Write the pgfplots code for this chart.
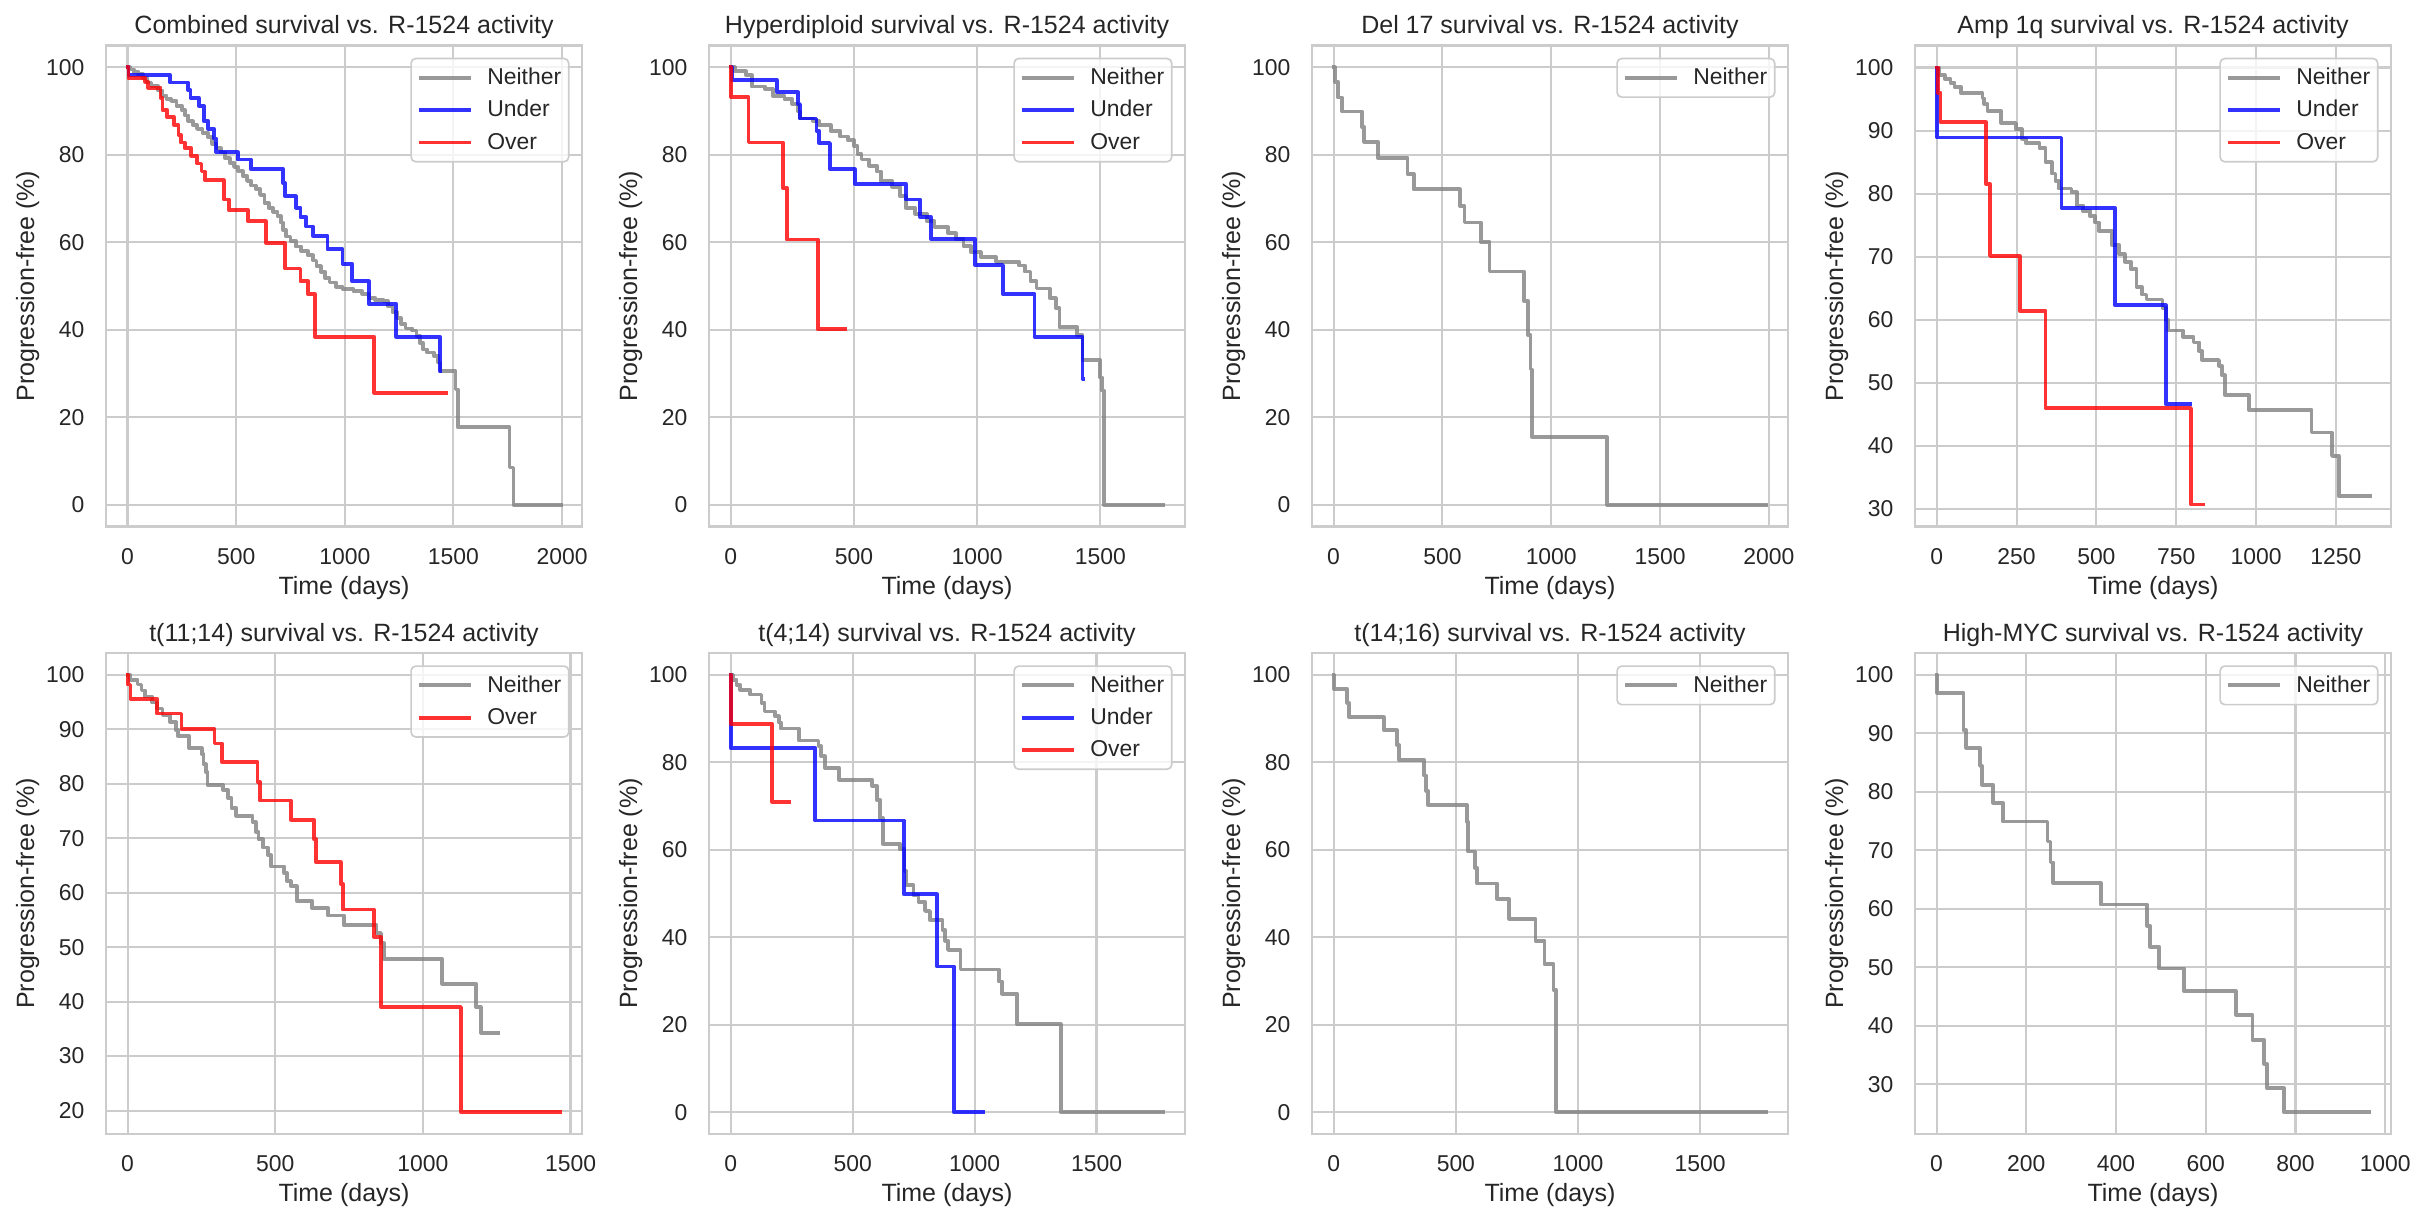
\documentclass[border=0pt]{standalone}
\usepackage{fontspec}
\setmainfont{Liberation Sans}
\usepackage{pgfplots}
\pgfplotsset{compat=1.18}

\definecolor{txt}{HTML}{262626}
\definecolor{gridc}{HTML}{CCCCCC}
\definecolor{neithc}{HTML}{808080}

\pgfplotsset{
  km/.style={
    scale only axis, anchor=south west,
    width=228.5pt, height=230.9pt,
    axis line style={draw=gridc, line width=1.25pt},
    grid=major,
    major grid style={draw=gridc, line width=1pt},
    major tick length=0pt,
    tick label style={font=\fontsize{11}{13}\selectfont, text=txt},
    xticklabel style={yshift=-6.8pt},
    yticklabel style={xshift=-6.9pt},
    /pgf/number format/assume math mode=true,
    /pgf/number format/1000 sep={},
    scaled ticks=false,
    xlabel={Time (days)},
    ylabel={Progression-free (\%)},
    every axis x label/.style={at={(axis description cs:0.5,0)}, anchor=base, yshift=-32.6pt, font=\fontsize{12}{14}\selectfont, text=txt},
    every axis y label/.style={at={(axis description cs:0,0.5)}, rotate=90, anchor=base, yshift=34.5pt, font=\fontsize{12}{14}\selectfont, text=txt},
    every axis title/.style={at={(axis description cs:0.5,1)}, anchor=base, yshift=5.5pt, font=\fontsize{12}{14}\selectfont, text=txt},
    legend cell align=left,
    legend image code/.code={\draw[##1] (0pt,0pt) -- (23.3pt,0pt);},
    legend style={at={(1,1)}, anchor=north east, xshift=-6pt, yshift=-5.9pt,
      draw=gridc, line width=0.8pt, rounded corners=2.2pt, fill=white, fill opacity=0.8, text opacity=1,
      font=\fontsize{11}{13}\selectfont, text=txt,
      inner xsep=3.6pt, inner ysep=1.5pt, column sep=7.9pt, row sep=0pt,
      nodes={inner sep=0pt, text height=11pt, text depth=4.5pt}},
  },
  km line/.style={const plot, mark=none, line width=1.8pt, opacity=0.8, line join=round, line cap=rect},
  neither/.style={km line, draw=neithc},
  under/.style={km line, draw=blue},
  over/.style={km line, draw=red},
}

\begin{document}
\begin{tikzpicture}
\useasboundingbox (0,0) rectangle (1160.64pt,584.64pt);

% Combined
\begin{axis}[km, at={(50.88pt,331.92pt)}, title={Combined survival vs. R-1524 activity},
  xmin=-99, xmax=2092, ymin=-5, ymax=105, xtick={0,500,1000,1500,2000}, ytick={0,20,40,60,80,100}]
\addplot[neither] coordinates {
(0,100) (10,99.5) (30,99) (50,98.5) (70,97.5) (90,96.5) (110,95.8) (140,94.7) (160,93.5) (180,92.8)
(200,92.3) (225,91.2) (250,90.2) (265,89) (280,87.7) (300,86.8) (320,85.9) (345,85) (370,84) (390,82.5)
(410,81.5) (430,80.5) (450,79.2) (470,78.2) (490,77.2) (510,76.3) (530,75.2) (550,74) (570,73) (590,72.2)
(610,70.8) (630,69) (650,67.8) (670,67) (690,66) (705,64.5) (715,62.8) (730,61.3) (750,60.3) (775,59)
(800,58) (830,57) (855,55.8) (870,54.5) (890,53.2) (910,51.8) (930,50.8) (960,49.8) (990,49.3) (1040,48.8)
(1080,48.2) (1110,47.3) (1140,46.8) (1180,46.5) (1200,45.3) (1220,44) (1240,42.6) (1260,41.3) (1280,40.3)
(1310,39.8) (1330,38.6) (1345,37) (1360,35.5) (1380,34.8) (1410,34) (1430,32.5) (1440,30.5) (1510,26.3)
(1520,17.7) (1758,8.5) (1776,0) (1996,0)};
\addlegendentry{Neither}
\addplot[under] coordinates {
(0,100) (5,98.2) (196,96.5) (279,94.8) (290,93) (328,91.2) (351,87.7) (372,85.9) (399,83.7) (408,80.6)
(508,78.9) (567,76.7) (717,73.5) (725,70.5) (775,67.9) (796,65.7) (823,63.6) (853,61.5) (920,58.4)
(990,55.1) (1034,51.1) (1110,45.9) (1237,38.4) (1437,30.5) (1440,30.5)};
\addlegendentry{Under}
\addplot[over] coordinates {
(0,100) (4,97.5) (81,96.7) (95,95.3) (152,93) (161,90.3) (182,88.6) (214,86.8) (235,84.6) (245,82.8)
(263,81.5) (293,79.8) (320,78) (341,76.2) (355,74.2) (443,69.8) (466,67.4) (554,64.8) (637,59.8)
(725,54) (796,51.1) (831,48.1) (863,38.4) (1135,25.6) (1467,25.6)};
\addlegendentry{Over}
\end{axis}

% Hyperdiploid
\begin{axis}[km, at={(340.32pt,331.92pt)}, title={Hyperdiploid survival vs. R-1524 activity},
  xmin=-88, xmax=1844, ymin=-5, ymax=105, xtick={0,500,1000,1500}, ytick={0,20,40,60,80,100}]
\addplot[neither] coordinates {
(0,100) (16,99.1) (62,98.2) (86,95.6) (140,95) (172,93.4) (218,92.7) (250,91.6) (273,89.9) (281,88.3)
(335,87.7) (359,86.8) (406,85.5) (445,84.2) (476,83.3) (500,82) (515,80.2) (531,78.9) (562,77.5)
(593,76.2) (609,74) (656,72.7) (687,70.5) (710,67.9) (749,66.5) (796,64.8) (827,63.5) (882,62.1)
(913,60.8) (945,59.1) (976,57.7) (1015,56.6) (1077,55.5) (1171,54.7) (1194,53.3) (1217,51.1)
(1241,49.4) (1295,47.2) (1319,45) (1334,40.6) (1405,38.8) (1428,33.1) (1499,29.1) (1506,26.1)
(1514,0) (1756,0)};
\addlegendentry{Neither}
\addplot[under] coordinates {
(0,100) (5,97.1) (187,94.3) (273,91.6) (281,88.3) (348,85.5) (359,82.7) (403,76.7) (503,73.4)
(710,69.8) (768,65.8) (812,60.8) (991,54.8) (1105,48.1) (1233,38.4) (1428,28.7) (1430,28.7)};
\addlegendentry{Under}
\addplot[over] coordinates {
(0,100) (1,93.2) (72,82.8) (211,72.4) (228,60.6) (353,40.1) (465,40.1)};
\addlegendentry{Over}
\end{axis}

% Del 17
\begin{axis}[km, at={(629.76pt,331.92pt)}, title={Del 17 survival vs. R-1524 activity},
  xmin=-99, xmax=2088, ymin=-5, ymax=105, xtick={0,500,1000,1500,2000}, ytick={0,20,40,60,80,100}]
\addplot[neither] coordinates {
(0,100) (5,96.7) (21,93.1) (39,89.9) (129,86.4) (141,83) (203,79.3) (340,75.6) (368,72.1) (580,68.3)
(601,64.5) (676,60.1) (716,53.3) (875,46.6) (893,38.8) (905,30.9) (911,15.5) (1256,0) (1989,0)};
\addlegendentry{Neither}
\end{axis}

% Amp 1q
\begin{axis}[km, at={(919.2pt,331.92pt)}, title={Amp 1q survival vs. R-1524 activity},
  xmin=-68, xmax=1423, ymin=27.2, ymax=103.5, xtick={0,250,500,750,1000,1250}, ytick={30,40,50,60,70,80,90,100}]
\addplot[neither] coordinates {
(0,100) (6,98.8) (25,98.2) (43,97.6) (56,96.9) (77,95.9) (143,95.1) (149,94.2) (159,93.1) (202,91.2)
(248,90.2) (267,88.7) (279,88) (322,87.2) (341,85) (360,83.2) (372,82) (382,80.8) (422,80.2) (440,78.1)
(459,77.2) (481,76.4) (496,75.4) (508,74.1) (548,71.9) (570,70.4) (589,69.2) (608,68) (626,65.2)
(642,64) (657,63.2) (707,61.9) (719,60) (725,58.3) (771,57.3) (804,56.4) (822,55) (831,53.6)
(884,52.7) (893,51.2) (902,48.1) (977,45.7) (1174,42.1) (1238,38.4) (1259,32) (1358,32)};
\addlegendentry{Neither}
\addplot[under] coordinates {
(0,100) (1,88.9) (391,77.7) (558,62.3) (717,46.6) (794,46.6)};
\addlegendentry{Under}
\addplot[over] coordinates {
(0,100) (4,96) (12,91.3) (155,81.5) (167,70.1) (260,61.4) (341,46) (796,30.7) (835,30.7)};
\addlegendentry{Over}
\end{axis}

% t(11;14)
\begin{axis}[km, at={(50.88pt,40.32pt)}, title={t(11;14) survival vs. R-1524 activity},
  xmin=-73, xmax=1539, ymin=15.7, ymax=104, xtick={0,500,1000,1500}, ytick={20,30,40,50,60,70,80,90,100}]
\addplot[neither] coordinates {
(0,100) (8,99.1) (34,98.2) (47,97.1) (60,96) (83,94.9) (99,93.8) (118,92.5) (144,91.3) (164,89.8)
(170,88.7) (209,86.5) (251,85.4) (257,83.6) (265,82.1) (271,79.8) (323,78.9) (339,77.4) (352,75.6)
(368,74.1) (423,73) (434,71.2) (443,69.8) (458,68.3) (475,66.9) (486,64.8) (531,63.6) (540,62.1)
(553,61.2) (573,58.5) (625,57.2) (679,55.8) (732,54) (843,52.6) (858,50.7) (869,47.8) (1066,43.3)
(1180,39) (1196,34.3) (1255,34.3)};
\addlegendentry{Neither}
\addplot[over] coordinates {
(0,100) (1,98.2) (10,95.6) (99,92.9) (183,90) (294,87.4) (319,84) (440,80.3) (449,76.9) (553,73.4)
(631,69.8) (638,65.6) (722,61.6) (729,56.9) (834,51.9) (859,39) (1129,19.7) (1466,19.7)};
\addlegendentry{Over}
\end{axis}

% t(4;14)
\begin{axis}[km, at={(340.32pt,40.32pt)}, title={t(4;14) survival vs. R-1524 activity},
  xmin=-89, xmax=1863, ymin=-5, ymax=105, xtick={0,500,1000,1500}, ytick={0,20,40,60,80,100}]
\addplot[neither] coordinates {
(0,100) (8,98.9) (24,97.7) (39,96.6) (79,95.5) (126,93.6) (139,91.6) (181,90.5) (197,89.1) (205,87.7)
(279,85) (360,83.7) (371,81.4) (386,78.7) (445,76) (580,74.6) (599,71.4) (612,67.3) (623,61.4)
(694,60.1) (713,55.1) (721,51.9) (749,49.6) (770,48.1) (797,46) (817,43.9) (868,41.7) (880,39.2)
(891,37.1) (942,32.6) (1099,29.9) (1112,27.1) (1175,20.1) (1353,0) (1774,0)};
\addlegendentry{Neither}
\addplot[under] coordinates {
(0,100) (1,83.2) (347,66.7) (710,49.8) (847,33.3) (915,0) (1033,0)};
\addlegendentry{Under}
\addplot[over] coordinates {
(0,100) (1,88.8) (169,71) (240,71)};
\addlegendentry{Over}
\end{axis}

% t(14;16)
\begin{axis}[km, at={(629.76pt,40.32pt)}, title={t(14;16) survival vs. R-1524 activity},
  xmin=-89, xmax=1860, ymin=-5, ymax=105, xtick={0,500,1000,1500}, ytick={0,20,40,60,80,100}]
\addplot[neither] coordinates {
(0,100) (1,96.8) (55,93.6) (63,90.3) (205,87.3) (260,83.9) (268,80.6) (370,77) (378,73.5) (386,70.2)
(546,66.4) (551,59.6) (578,55.9) (587,52.3) (669,48.7) (719,44.2) (826,39.2) (863,33.8) (900,27.9)
(910,0) (1771,0)};
\addlegendentry{Neither}
\end{axis}

% High-MYC
\begin{axis}[km, at={(919.2pt,40.32pt)}, title={High-MYC survival vs. R-1524 activity},
  xmin=-48, xmax=1013, ymin=21.5, ymax=103.7, xtick={0,200,400,600,800,1000}, ytick={30,40,50,60,70,80,90,100}]
\addplot[neither] coordinates {
(0,100) (1,96.9) (60,90.5) (66,87.5) (97,84.4) (101,81.2) (126,78.1) (148,74.9) (247,71.5) (254,67.9)
(260,64.4) (366,60.7) (469,57.1) (476,53.5) (496,49.8) (552,45.9) (667,41.9) (704,37.6) (730,33.5)
(736,29.3) (775,25.2) (965,25.2)};
\addlegendentry{Neither}
\end{axis}

\end{tikzpicture}
\end{document}
